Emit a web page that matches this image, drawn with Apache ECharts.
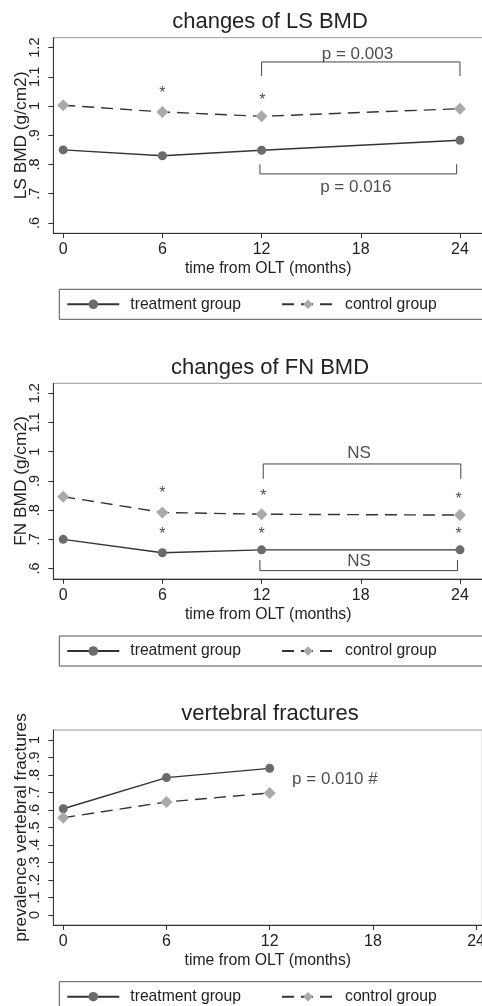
<!DOCTYPE html>
<html><head><meta charset="utf-8">
<script src="https://cdn.jsdelivr.net/npm/echarts@6/dist/echarts.min.js"></script>
<style>html,body{margin:0;padding:0;background:#fff}#c{width:482px;height:1006px}</style>
</head><body><div id="c"></div>
<script>
// ---- data ----
const months = [0, 6, 12, 24];
const monthsVF = [0, 6, 12];
const lsTreatment = [0.850, 0.830, 0.849, 0.883];
const lsControl = [1.003, 0.980, 0.965, 0.991];
const fnTreatment = [0.700, 0.654, 0.664, 0.664];
const fnControl = [0.846, 0.792, 0.786, 0.783];
const vfTreatment = [0.607, 0.785, 0.838];
const vfControl = [0.556, 0.646, 0.697];
const xTicks = [0, 6, 12, 18, 24];
const bmdTicks = [0.6, 0.7, 0.8, 0.9, 1.0, 1.1, 1.2];
const vfTicks = [0, 0.1, 0.2, 0.3, 0.4, 0.5, 0.6, 0.7, 0.8, 0.9, 1];
const titles = ['changes of LS BMD', 'changes of FN BMD', 'vertebral fractures'];
const yTitles = ['LS BMD (g/cm2)', 'FN BMD (g/cm2)', 'prevalence vertebral fractures'];
const xTitle = 'time from OLT (months)';
const seriesNames = ['treatment group', 'control group'];
// annotations (data coordinates)
const lsBrackets = [
  [[12, 1.103], [12, 1.151], [24, 1.151], [24, 1.103]],
  [[11.9, 0.801], [11.9, 0.768], [23.8, 0.768], [23.8, 0.801]]
];
const lsTexts = [[17.8, 1.178, 'p = 0.003'], [17.7, 0.721, 'p = 0.016']];
const lsStars = [[6, 1.053], [12.05, 1.032]];
const fnBrackets = [
  [[12.1, 0.907], [12.1, 0.958], [24.05, 0.958], [24.05, 0.907]],
  [[11.9, 0.629], [11.9, 0.593], [23.85, 0.593], [23.85, 0.629]]
];
const fnTexts = [[17.9, 0.995, 'NS'], [17.9, 0.624, 'NS']];
const fnStars = [[6, 0.867], [12.1, 0.858], [23.92, 0.849], [6, 0.728], [12, 0.728], [23.92, 0.728]];
const vfTexts = [[13.3, 0.777, 'p = 0.010 #']];

// ---- styles ----
const FONT = 'Liberation Sans, Arial, Helvetica, sans-serif';
const DARK = '#333';
const CIRCLE = '#6b6b6b';
const DIAMOND = '#a9a9a9';

const grids = [
  {left: 53.3, top: 37.7, width: 429.8, height: 195.5},
  {left: 53.3, top: 383.3, width: 429.8, height: 195.5},
  {left: 53.3, top: 730, width: 429, height: 195}
];
const xRanges = [[-0.6, 25.4], [-0.6, 25.4], [-0.58, 24.36]];
const yRanges = [[0.565, 1.234], [0.565, 1.234], [-0.057, 1.057]];
const yTickSets = [bmdTicks, bmdTicks, vfTicks];
const titleTops = [11, 356.5, 702.5];
const legendTops = [289.3, 636, 981.7];

function fmt(v) {
  let s = String(Math.round(v * 10) / 10);
  return s.replace(/^0\./, '.');
}

const option = {
  backgroundColor: '#fff',
  animation: false,
  textStyle: {fontFamily: FONT},
  title: titles.map((t, i) => ({
    text: t, left: 270, top: titleTops[i], textAlign: 'center', padding: 0,
    textStyle: {fontSize: 22, fontWeight: 'normal', color: '#222', fontFamily: FONT}
  })),
  legend: legendTops.map(t => ({
    data: seriesNames, left: 59.3, top: t, orient: 'horizontal', width: 440,
    padding: [7, 60, 7, 7], itemGap: 40, itemWidth: 52, itemHeight: 12,
    borderColor: '#555', borderWidth: 1, selectedMode: false,
    textStyle: {fontSize: 15.7, color: '#222', fontFamily: FONT, padding: [0, 0, 0, 6]}
  })),
  grid: grids.map(g => Object.assign({show: true, borderColor: '#999', borderWidth: 1,
    backgroundColor: '#fff', outerBoundsMode: 'none', containLabel: false}, g)),
  xAxis: grids.map((g, i) => ({
    type: 'value', gridIndex: i, min: xRanges[i][0], max: xRanges[i][1],
    name: xTitle, nameLocation: 'middle', nameGap: 27.5, nameMoveOverlap: false,
    nameTextStyle: {fontSize: 15.8, color: '#222', fontFamily: FONT},
    axisLine: {show: true, onZero: false, lineStyle: {color: DARK, width: 1}},
    axisTick: {show: true, length: 5, lineStyle: {color: DARK}, customValues: xTicks},
    axisLabel: {fontSize: 16, color: '#222', margin: 8.5, customValues: xTicks, formatter: v => String(v),
      hideOverlap: false, showMaxLabel: true, showMinLabel: true},
    splitLine: {show: false}
  })),
  yAxis: grids.map((g, i) => ({
    type: 'value', gridIndex: i, min: yRanges[i][0], max: yRanges[i][1],
    name: yTitles[i], nameLocation: 'middle', nameGap: 24, nameRotate: 90, nameMoveOverlap: false,
    nameTextStyle: {fontSize: 17.3, color: '#222', fontFamily: FONT},
    axisLine: {show: true, onZero: false, lineStyle: {color: DARK, width: 1}},
    axisTick: {show: true, length: 5, lineStyle: {color: DARK}, customValues: yTickSets[i]},
    axisLabel: {fontSize: 14.5, color: '#222', margin: 11, rotate: 90, customValues: yTickSets[i], formatter: fmt},
    splitLine: {show: false}
  })),
  series: []
};

function mainPair(idx, xs, tr, ct) {
  option.series.push({
    name: seriesNames[0], type: 'line', xAxisIndex: idx, yAxisIndex: idx,
    data: xs.map((x, k) => [x, tr[k]]),
    symbol: 'circle', symbolSize: 9, showSymbol: true,
    lineStyle: {color: DARK, width: 1.4},
    itemStyle: {color: CIRCLE, borderWidth: 0},
    z: 3
  });
  option.series.push({
    name: seriesNames[1], type: 'line', xAxisIndex: idx, yAxisIndex: idx,
    data: xs.map((x, k) => [x, ct[k]]),
    symbol: 'diamond', symbolSize: 12, showSymbol: true,
    lineStyle: {color: DARK, width: 1.4, type: [12, 7]},
    itemStyle: {color: DIAMOND, borderWidth: 0},
    z: 3
  });
}
function brackets(idx, list) {
  list.forEach(b => option.series.push({
    type: 'line', xAxisIndex: idx, yAxisIndex: idx, data: b, symbol: 'none',
    lineStyle: {color: '#444', width: 1}, silent: true, z: 2
  }));
}
function texts(idx, list, align) {
  option.series.push({
    type: 'scatter', xAxisIndex: idx, yAxisIndex: idx,
    data: list.map(t => ({value: [t[0], t[1]], label: {formatter: t[2]}})),
    symbolSize: 1, itemStyle: {color: 'rgba(0,0,0,0)'}, silent: true,
    label: {show: true, position: 'inside', align: align || 'center', verticalAlign: 'middle',
      fontSize: 17, color: '#222', fontFamily: FONT}
  });
}
function stars(idx, list) {
  option.series.push({
    type: 'scatter', xAxisIndex: idx, yAxisIndex: idx,
    data: list, symbolSize: 1, itemStyle: {color: 'rgba(0,0,0,0)'}, silent: true,
    label: {show: true, position: 'inside', formatter: '*', offset: [0, 3.5],
      fontSize: 16, color: '#222', fontFamily: FONT}
  });
}

mainPair(0, months, lsTreatment, lsControl);
mainPair(1, months, fnTreatment, fnControl);
mainPair(2, monthsVF, vfTreatment, vfControl);
brackets(0, lsBrackets); texts(0, lsTexts); stars(0, lsStars);
brackets(1, fnBrackets); texts(1, fnTexts); stars(1, fnStars);
texts(2, vfTexts, 'left');

const chart = echarts.init(document.getElementById('c'), null, {renderer: 'canvas'});
chart.setOption(option);
</script></body></html>
